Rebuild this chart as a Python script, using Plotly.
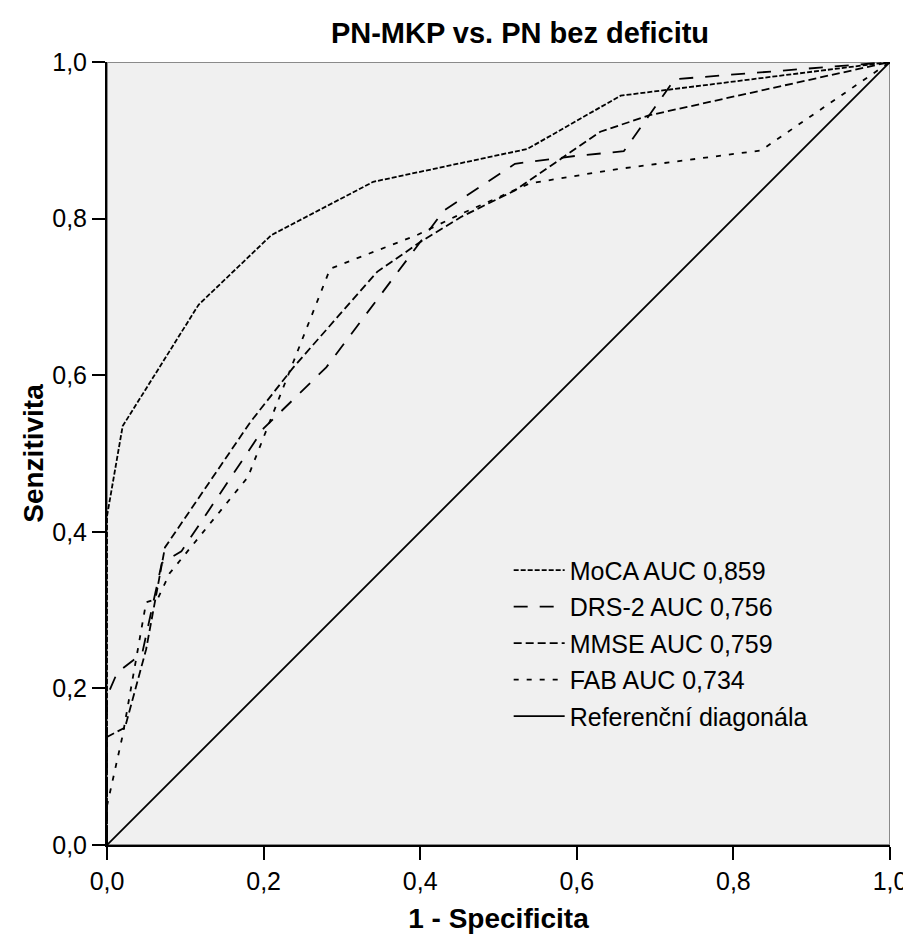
import plotly.graph_objects as go

title_text = "PN-MKP vs. PN bez deficitu"
x_title = "1 - Specificita"
y_title = "Senzitivita"

moca_x = [0.0, 0.0, 0.02, 0.117, 0.21, 0.34, 0.537, 0.656, 1.0]
moca_y = [0.0, 0.42, 0.535, 0.69, 0.779, 0.847, 0.889, 0.957, 1.0]

drs_x = [0.0, 0.0, 0.013, 0.045, 0.07, 0.095, 0.2, 0.28, 0.43, 0.521, 0.598, 0.66, 0.725, 1.0]
drs_y = [0.0, 0.19, 0.22, 0.245, 0.36, 0.375, 0.532, 0.61, 0.81, 0.87, 0.88, 0.886, 0.978, 1.0]

mmse_x = [0.0, 0.0, 0.023, 0.05, 0.074, 0.183, 0.238, 0.345, 0.4, 0.452, 0.521, 0.572, 0.63, 0.693, 1.0]
mmse_y = [0.0, 0.138, 0.15, 0.25, 0.38, 0.54, 0.61, 0.732, 0.77, 0.802, 0.836, 0.871, 0.911, 0.932, 1.0]

fab_x = [0.0, 0.0, 0.02, 0.05, 0.065, 0.08, 0.18, 0.285, 0.396, 0.45, 0.54, 0.65, 0.835, 1.0]
fab_y = [0.0, 0.05, 0.14, 0.31, 0.315, 0.347, 0.47, 0.736, 0.779, 0.805, 0.845, 0.863, 0.887, 1.0]

ref_x = [0.0, 1.0]
ref_y = [0.0, 1.0]

names = ["MoCA AUC 0,859", "DRS-2 AUC 0,756", "MMSE AUC 0,759", "FAB AUC 0,734", "Referenční diagonála"]

tick_vals = [0.0, 0.2, 0.4, 0.6, 0.8, 1.0]
tick_text = ["0,0", "0,2", "0,4", "0,6", "0,8", "1,0"]

series = [
    (moca_x, moca_y, names[0], "5px,2px"),
    (drs_x, drs_y, names[1], "14px,12px"),
    (mmse_x, mmse_y, names[2], "8px,4px"),
    (fab_x, fab_y, names[3], "5px,8px"),
    (ref_x, ref_y, names[4], "solid"),
]

fig = go.Figure()
for i, (xs, ys, nm, dash) in enumerate(series):
    fig.add_trace(go.Scatter(
        x=xs, y=ys, mode="lines", name=nm, legendgroup=f"g{i}",
        line=dict(color="black", width=1.8, dash=dash),
    ))

fig.add_shape(type="rect", xref="x", yref="y", x0=0, y0=0, x1=1, y1=1,
              line=dict(color="#8a8a8a", width=2), layer="below")

font_family = "Liberation Sans, Arial, sans-serif"

# page body has an 8px margin, so offsets compensate for it
fig.update_layout(
    width=911, height=938,
    margin=dict(l=99, r=29, t=54, b=101),
    paper_bgcolor="white",
    plot_bgcolor="#F0F0F0",
    font=dict(family=font_family, color="black", size=25),
    title=dict(text="<b>" + title_text + "</b>", x=512 / 911, xanchor="center",
               y=1 - 25 / 938, yanchor="middle", font=dict(size=29)),
    showlegend=True,
    legend=dict(x=0.513, y=0.38, xanchor="left", yanchor="top",
                bgcolor="rgba(0,0,0,0)", tracegroupgap=1,
                font=dict(size=25), itemwidth=51),
    xaxis=dict(range=[0, 1], tickvals=tick_vals, ticktext=tick_text,
               showgrid=False, zeroline=False, showline=True, linecolor="black", linewidth=2,
               ticks="outside", ticklen=13, tickwidth=1.5, tickcolor="black",
               title=dict(text="<b>" + x_title + "</b>", standoff=14, font=dict(size=28)),
               tickfont=dict(size=25)),
    yaxis=dict(range=[0, 1], tickvals=tick_vals, ticktext=tick_text,
               showgrid=False, zeroline=False, showline=True, linecolor="black", linewidth=2,
               ticks="outside", ticklen=13, tickwidth=1.5, tickcolor="black",
               title=dict(text="<b>" + y_title + "</b>", standoff=0, font=dict(size=28)),
               tickfont=dict(size=25)),
)

fig.write_html("out.html")
